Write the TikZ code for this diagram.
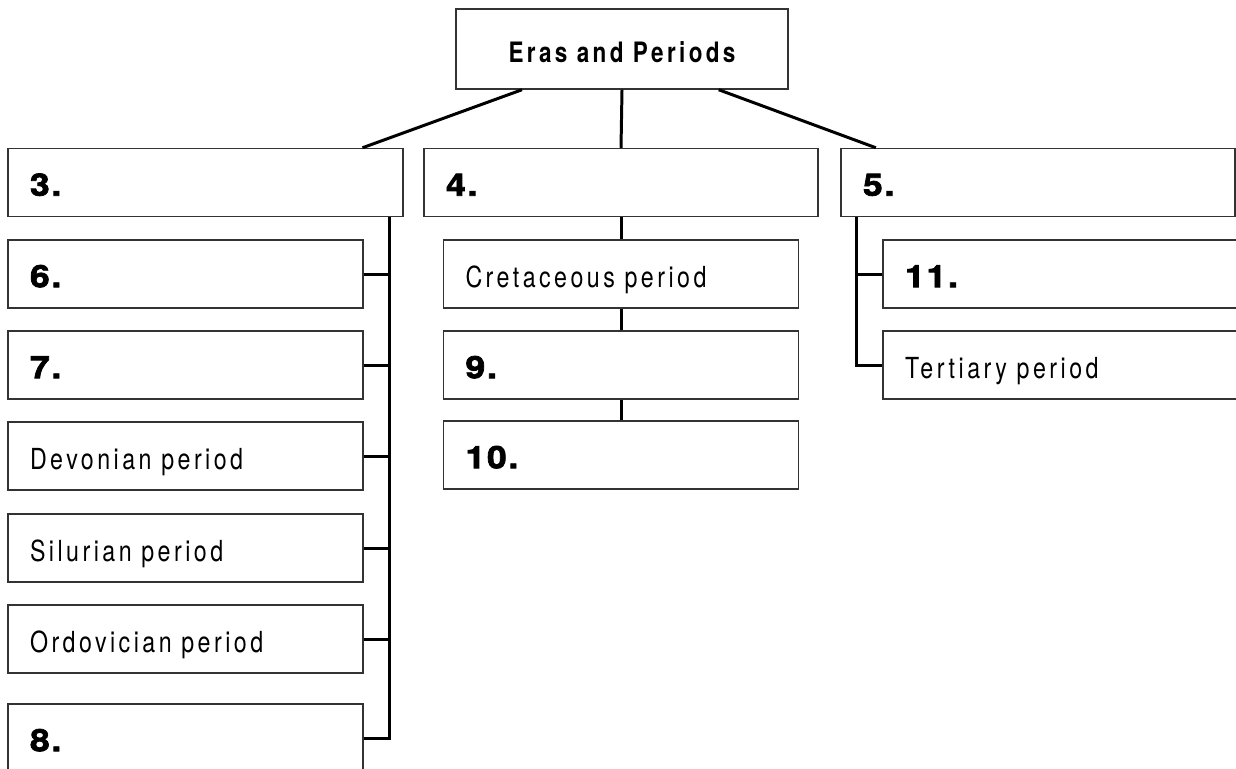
\documentclass[tikz,border=0pt]{standalone}
\usepackage{fontspec}
\setmainfont{TeX Gyre Heros}[FakeStretch=0.8, LetterSpace=12]
\newfontfamily\numfont{texgyreheros}[Extension=.otf, UprightFont=*-bold, FakeBold=2.5, FakeStretch=1.15, LetterSpace=6]
\usetikzlibrary{calc}

\newcommand\qnum[1]{{\numfont\fontsize{17.5}{19}\selectfont #1}}
\DeclareRobustCommand\boxfont{\fontsize{16.5}{19}\selectfont\fontdimen2\font=0.45em\relax}
\DeclareRobustCommand\titlefont{\fontsize{16}{19}\selectfont\bfseries\fontdimen2\font=0.42em\relax}

\begin{document}
\begin{tikzpicture}[x=0.02cm, y=-0.02cm,
    ebox/.style={draw=black!80, line width=0.85pt, minimum height=1.36cm,
        text width=#1, inner xsep=0.44cm, align=left,
        text height=17pt, text depth=2pt, font=\boxfont},
    conn/.style={line width=1.7pt}]

        \useasboundingbox (0,0) rectangle (1236,768);
        \clip (0,0) rectangle (1236,768);

        %title
        \node[ebox=5.76cm, align=center, minimum height=1.6cm, font=\titlefont] (eras) at (622,49) {Eras and Periods};

        %eras
        \node[ebox=7.02cm] (era3) at (205.5,182.5) {\qnum{3.}};
        \node[ebox=7.0cm] (era4) at (621,182.5) {\qnum{4.}};
        \node[ebox=7.0cm] (era5) at (1038,182.5) {\qnum{5.}};

        %left column
        \node[ebox=6.22cm] (p6) at (185.5,274) {\qnum{6.}};
        \node[ebox=6.22cm] (p7) at (185.5,365) {\qnum{7.}};
        \node[ebox=6.22cm] (dev) at (185.5,456) {Devonian period};
        \node[ebox=6.22cm] (sil) at (185.5,548) {Silurian period};
        \node[ebox=6.22cm] (ord) at (185.5,639) {Ordovician period};
        \node[ebox=6.22cm] (p8) at (185.5,738) {\qnum{8.}};

        %middle column
        \node[ebox=6.22cm] (cret) at (621,274) {Cretaceous period};
        \node[ebox=6.22cm] (p9) at (621,365) {\qnum{9.}};
        \node[ebox=6.22cm] (p10) at (621,455) {\qnum{10.}};

        %right column
        \node[ebox=6.22cm] (p11) at (1060.5,274) {\qnum{11.}};
        \node[ebox=6.22cm] (tert) at (1060.5,365) {Tertiary period};

        %title to eras
        \draw[conn] ($(eras.south west)!0.2!(eras.south east)$) -- ($(era3.north west)!0.896!(era3.north east)$);
        \draw[conn] (eras.south) -- (era4.north);
        \draw[conn] ($(eras.south west)!0.79!(eras.south east)$) -- ($(era5.north west)!0.09!(era5.north east)$);

        %left spine
        \coordinate (lspine) at ($(era3.south west)!0.965!(era3.south east)$);
        \draw[conn] (lspine) |- (p8.east);
        \foreach \n in {p6,p7,dev,sil,ord}
            \draw[conn] (\n.east) -- (\n.east -| lspine);

        %middle chain
        \draw[conn] (era4.south) -- (cret.north);
        \draw[conn] (cret.south) -- (p9.north);
        \draw[conn] (p9.south) -- (p10.north);

        %right spine
        \coordinate (rspine) at ($(era5.south west)!0.04!(era5.south east)$);
        \draw[conn] (rspine) |- (tert.west);
        \draw[conn] (p11.west) -- (p11.west -| rspine);
\end{tikzpicture}
\end{document}
